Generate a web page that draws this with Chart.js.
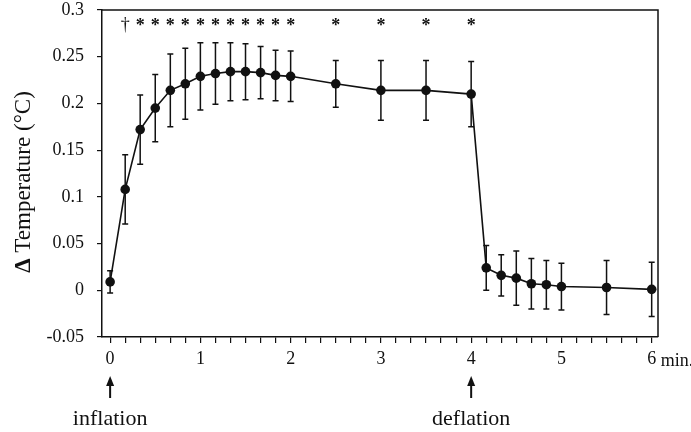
<!DOCTYPE html>
<html lang="en">
<head>
  <meta charset="UTF-8" />
  <title>Temperature change</title>
  <script src="https://cdn.jsdelivr.net/npm/chart.js"></script>
  <style>
    body {
      margin: 0;
      background: #ffffff;
    }
    canvas {
      display: block;
    }
  </style>
</head>
<body>
  <canvas id="tempChart" width="691" height="432"></canvas>

  <script>
    // time in minutes, mean change and error (+/-)
    const times = [0, 0.167, 0.333, 0.5, 0.667, 0.833, 1, 1.167, 1.333, 1.5, 1.667, 1.833, 2,
                   2.5, 3, 3.5, 4, 4.167, 4.333, 4.5, 4.667, 4.833, 5, 5.5, 6];
    const deltaTemp = [0.009, 0.108, 0.172, 0.195, 0.214, 0.221, 0.229, 0.232, 0.234, 0.234, 0.233, 0.230, 0.229,
                       0.221, 0.214, 0.214, 0.210, 0.024, 0.016, 0.013, 0.007, 0.006, 0.004, 0.003, 0.001];
    const errors = [0.012, 0.037, 0.037, 0.036, 0.039, 0.038, 0.036, 0.033, 0.031, 0.030, 0.028, 0.027, 0.027,
                    0.025, 0.032, 0.032, 0.035, 0.024, 0.022, 0.029, 0.027, 0.026, 0.025, 0.029, 0.029];

    // significance marks above the curve
    const sigTimes = [0.167, 0.333, 0.5, 0.667, 0.833, 1, 1.167, 1.333, 1.5, 1.667, 1.833, 2, 2.5, 3, 3.5, 4];
    const sigMarks = ['†', '*', '*', '*', '*', '*', '*', '*', '*', '*', '*', '*', '*', '*', '*', '*'];

    const xLabels = ['0', '1', '2', '3', '4', '5', '6'];
    const events = [{ t: 0, label: 'inflation' }, { t: 4, label: 'deflation' }];

    const serif = "'Liberation Serif', 'Times New Roman', serif";

    const extras = {
      id: 'extras',
      beforeDatasetsDraw(chart) {
        const ctx = chart.ctx;
        const xs = chart.scales.x, ys = chart.scales.y;
        ctx.save();
        ctx.strokeStyle = '#111';
        ctx.lineWidth = 1.5;
        times.forEach((t, i) => {
          const x = xs.getPixelForValue(t);
          const top = ys.getPixelForValue(deltaTemp[i] + errors[i]);
          const bot = ys.getPixelForValue(deltaTemp[i] - errors[i]);
          ctx.beginPath();
          ctx.moveTo(x, top); ctx.lineTo(x, bot);
          ctx.moveTo(x - 3, top); ctx.lineTo(x + 3, top);
          ctx.moveTo(x - 3, bot); ctx.lineTo(x + 3, bot);
          ctx.stroke();
        });
        ctx.restore();
      },
      afterDraw(chart) {
        const ctx = chart.ctx;
        const a = chart.chartArea;
        const xs = chart.scales.x, ys = chart.scales.y;
        ctx.save();
        // frame top and right
        ctx.strokeStyle = '#111';
        ctx.lineWidth = 1.5;
        ctx.beginPath();
        ctx.moveTo(a.left, a.top); ctx.lineTo(a.right, a.top); ctx.lineTo(a.right, a.bottom);
        ctx.stroke();

        // significance marks
        ctx.fillStyle = '#111';
        ctx.textAlign = 'center';
        ctx.textBaseline = 'middle';
        sigTimes.forEach((t, i) => {
          const x = xs.getPixelForValue(t);
          const y = ys.getPixelForValue(0.286);
          if (sigMarks[i] === '*') {
            ctx.font = 'bold 18px ' + serif;
            ctx.fillText('*', x, y + 3);
          } else {
            ctx.font = '18px ' + serif;
            ctx.fillText(sigMarks[i], x, y + 2);
          }
        });

        // "min." after last tick label
        ctx.font = '18px ' + serif;
        ctx.textAlign = 'left';
        ctx.fillText('min.', xs.getPixelForValue(6) + 9, 361);

        // y axis title with bold delta
        ctx.translate(24, 182);
        ctx.rotate(-Math.PI / 2);
        ctx.textBaseline = 'middle';
        ctx.font = 'bold 23px ' + serif;
        const d = 'Δ ';
        const rest = 'Temperature (°C)';
        const wd = ctx.measureText(d).width;
        ctx.font = '23px ' + serif;
        const wr = ctx.measureText(rest).width;
        const start = -(wd + wr) / 2;
        ctx.font = 'bold 23px ' + serif;
        ctx.fillText(d, start, 0);
        ctx.font = '23px ' + serif;
        ctx.fillText(rest, start + wd, 0);
        ctx.setTransform(1, 0, 0, 1, 0, 0);

        // inflation / deflation arrows
        ctx.lineWidth = 2;
        ctx.textAlign = 'center';
        ctx.font = '22px ' + serif;
        events.forEach(ev => {
          const x = xs.getPixelForValue(ev.t);
          ctx.beginPath();
          ctx.moveTo(x, 398); ctx.lineTo(x, 382);
          ctx.stroke();
          ctx.beginPath();
          ctx.moveTo(x, 376); ctx.lineTo(x - 4, 386); ctx.lineTo(x + 4, 386);
          ctx.closePath();
          ctx.fill();
          ctx.fillText(ev.label, x, 419);
        });
        ctx.restore();
      }
    };

    new Chart(document.getElementById('tempChart'), {
      type: 'line',
      data: {
        datasets: [{
          data: times.map((t, i) => ({ x: t, y: deltaTemp[i] })),
          borderColor: '#111',
          backgroundColor: '#111',
          borderWidth: 1.6,
          pointRadius: 4.8,
          pointBackgroundColor: '#111',
          pointBorderWidth: 0,
          tension: 0
        }]
      },
      options: {
        responsive: false,
        animation: false,
        layout: { padding: { top: 10, right: 33, left: 0, bottom: 0 } },
        plugins: {
          legend: { display: false },
          tooltip: { enabled: false }
        },
        scales: {
          x: {
            type: 'linear',
            min: -0.09,
            max: 6.07,
            afterFit: s => { s.height = 95; },
            afterBuildTicks: s => {
              const ticks = [];
              for (let k = 0; k <= 36; k++) ticks.push({ value: k / 6 });
              s.ticks = ticks;
            },
            border: { display: true, color: '#111', width: 1.5 },
            grid: { drawOnChartArea: false, drawTicks: true, tickLength: 6, color: '#111', lineWidth: 1.2 },
            ticks: {
              autoSkip: false,
              maxRotation: 0,
              padding: 5,
              color: '#111',
              font: { family: serif, size: 18 },
              callback: (v) => {
                const r = Math.round(v);
                return Math.abs(v - r) < 1e-6 ? xLabels[r] : '';
              }
            }
          },
          y: {
            min: -0.05,
            max: 0.3,
            afterFit: s => {
              s.width = 102;
              s.paddingTop = 0;
              s.paddingBottom = 0;
            },
            border: { display: true, color: '#111', width: 1.5 },
            grid: { drawOnChartArea: false, drawTicks: true, tickLength: 5, color: '#111', lineWidth: 1.2 },
            ticks: {
              stepSize: 0.05,
              padding: 13,
              color: '#111',
              font: { family: serif, size: 18 },
              callback: v => String(Number(v.toFixed(2)))
            }
          }
        }
      },
      plugins: [extras]
    });
  </script>
</body>
</html>
